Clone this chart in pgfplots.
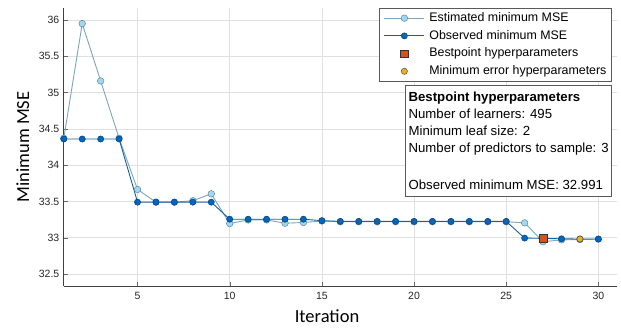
\documentclass[border=0pt]{standalone}
\usepackage{fontspec}
\setmainfont{Liberation Sans}
\newfontfamily\carlito{Carlito}
\usepackage{pgfplots}
\pgfplotsset{compat=1.18}
\definecolor{estfill}{RGB}{160,216,242}
\definecolor{estedge}{RGB}{95,135,160}
\definecolor{estline}{RGB}{125,165,185}
\definecolor{obsfill}{RGB}{0,102,190}
\definecolor{obsedge}{RGB}{0,65,130}
\definecolor{obsline}{RGB}{25,95,160}
\definecolor{bestsq}{RGB}{217,83,25}
\definecolor{minerr}{RGB}{237,177,32}
\pgfplotsset{
  mylegline/.style={legend image code/.code={\path[draw=none,fill=none] (0pt,0pt) -- (45pt,0pt);
    \draw[mark repeat=2,mark phase=2,##1] plot coordinates {(3pt,0pt) (23pt,0pt) (43pt,0pt)};}},
  mylegmark/.style={legend image code/.code={\path[draw=none,fill=none] (0pt,0pt) -- (45pt,0pt);
    \draw[##1] plot coordinates {(23pt,0pt)};}},
}
\begin{document}
\begin{tikzpicture}
\begin{axis}[
  scale only axis, width=553pt, height=278pt,
  xmin=1, xmax=31, ymin=32.335, ymax=36.165,
  axis x line*=bottom, axis y line*=left,
  axis line style={-, draw=black!75, line width=0.8pt},
  xtick={5,10,15,20,25,30},
  ytick={32.5,33,33.5,34,34.5,35,35.5,36},
  yticklabels={32.5,33,33.5,34,34.5,35,35.5,36},
  tick align=inside, major tick length=4pt,
  tick style={draw=black!60},
  grid=major, grid style={draw=black!12, line width=0.6pt},
  /pgf/number format/assume math mode=true,
  ticklabel style={font=\fontsize{10.5}{12}\selectfont, text=black!85},
  xticklabel style={yshift=-3pt},
  yticklabel style={xshift=-1pt},
  every axis x label/.style={at={(axis description cs:0.476,-0.107)}, anchor=center},
  every axis y label/.style={at={(axis description cs:-0.074,0.5)}, rotate=90, anchor=center},
  xlabel={\carlito\fontsize{18.5}{20}\selectfont Iteration},
  ylabel={\carlito\fontsize{18.5}{20}\selectfont Minimum MSE},
  legend style={at={(0.991,1)}, anchor=north east, draw=black!65, line width=0.7pt,
    font=\fontsize{12.4}{14}\selectfont, inner xsep=2pt, inner ysep=1pt, row sep=0pt,
    nodes={text height=9.5pt, text depth=3.2pt, inner ysep=2.5pt, inner xsep=3pt}},
  legend cell align=left,
  clip=false,
]
\addplot[color=estline, line width=0.9pt, mark=*, mark size=3.3pt,
  mark options={fill=estfill, draw=estedge, line width=0.5pt}, mylegline] coordinates {
(1,34.37) (2,35.95) (3,35.16) (4,34.37) (5,33.665) (6,33.49) (7,33.49) (8,33.51) (9,33.605)
(10,33.195) (11,33.245) (12,33.245) (13,33.2) (14,33.21) (15,33.23) (16,33.22) (17,33.22)
(18,33.22) (19,33.22) (20,33.22) (21,33.22) (22,33.22) (23,33.22) (24,33.22) (25,33.22)
(26,33.205) (27,32.945) (28,32.97) (29,32.975) (30,32.98)};
\addlegendentry{Estimated minimum MSE}
\addplot[color=obsline, line width=0.9pt, mark=*, mark size=3.1pt,
  mark options={fill=obsfill, draw=obsedge, line width=0.5pt}, mylegline] coordinates {
(1,34.36) (2,34.36) (3,34.36) (4,34.36) (5,33.49) (6,33.49) (7,33.49) (8,33.49) (9,33.49)
(10,33.255) (11,33.255) (12,33.255) (13,33.255) (14,33.255) (15,33.235) (16,33.225) (17,33.225)
(18,33.225) (19,33.225) (20,33.225) (21,33.225) (22,33.225) (23,33.225) (24,33.225) (25,33.225)
(26,32.995) (27,32.991) (28,32.985) (29,32.982) (30,32.982)};
\addlegendentry{Observed minimum MSE}
\addplot[only marks, mark=square*, mark size=3.7pt,
  mark options={fill=bestsq, draw=black!80, line width=0.5pt}, mylegmark] coordinates {(27,32.991)};
\addlegendentry{Bestpoint hyperparameters}
\addplot[only marks, mark=*, mark size=3.1pt,
  mark options={fill=minerr, draw=black!70, line width=0.5pt}, mylegmark] coordinates {(29,32.982)};
\addlegendentry{Minimum error hyperparameters}
\end{axis}
\node[draw=black!65, line width=0.7pt, fill=white, anchor=north east, inner xsep=3pt, inner ysep=6.5pt,
  align=left, font=\fontsize{13.2}{17}\selectfont] at (548.2pt,201pt)
  {\textbf{Bestpoint hyperparameters}\\
   Number of learners: 495\\
   Minimum leaf size: 2\\
   Number of predictors to sample: 3\\
   \strut\\[3pt]
   Observed minimum MSE: 32.991};
\pgfresetboundingbox
\path[use as bounding box] (-63.8pt,-42pt) rectangle (557.2pt,286pt);
\end{tikzpicture}
\end{document}
